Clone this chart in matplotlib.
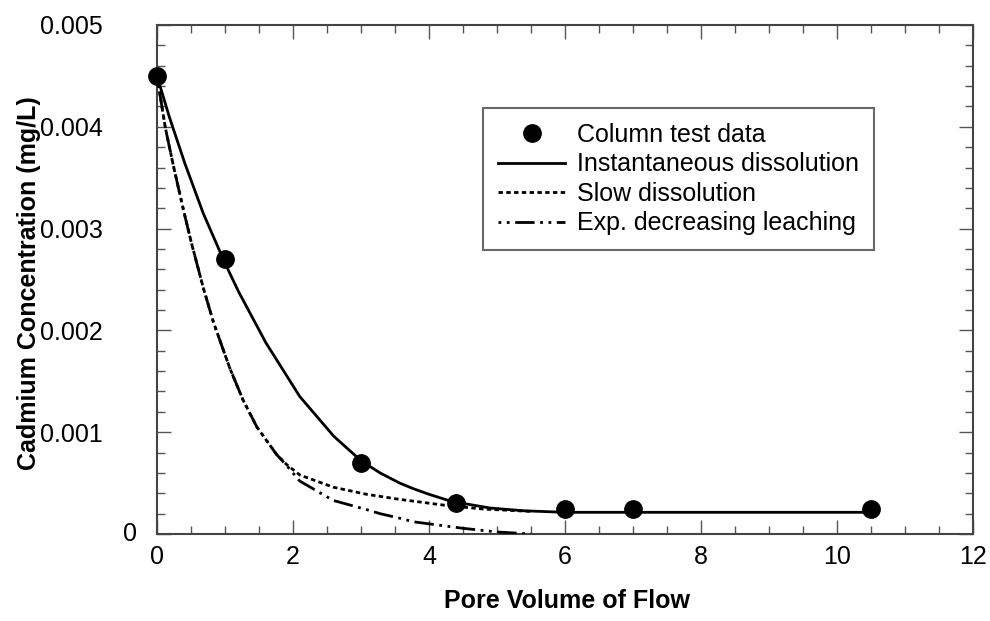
import matplotlib
matplotlib.use("Agg")
import matplotlib.pyplot as plt
from matplotlib.ticker import MultipleLocator, FixedLocator

plt.rcParams['font.family'] = ['Liberation Sans', 'DejaVu Sans']

# Column test data
data_x = [0, 1, 3, 4.4, 6, 7, 10.5]
data_y = [0.0045, 0.0027, 0.0007, 0.0003, 0.00025, 0.00025, 0.00025]

# Instantaneous dissolution
inst_x = [0, 0.18, 0.41, 0.68, 1.0, 1.2, 1.6, 2.1, 2.6, 3.0, 3.28, 3.57, 3.77, 4.0, 4.26, 4.4, 4.9, 5.4, 6.0, 10.5]
inst_y = [0.0045, 0.00410, 0.00364, 0.00315, 0.00266, 0.00238, 0.00188, 0.00135, 0.00096, 0.00072,
          0.00060, 0.00050, 0.000445, 0.00039, 0.000335, 0.000312, 0.000255, 0.000228, 0.000213, 0.000213]

# Slow dissolution
slow_x = [0, 0.12, 0.24, 0.39, 0.51, 0.68, 0.83, 1.07, 1.27, 1.47, 1.76, 1.91, 2.10, 2.59, 3.08, 3.57, 4.26, 4.8, 5.5]
slow_y = [0.0045, 0.0040, 0.00362, 0.00318, 0.00285, 0.00242, 0.00208, 0.00163, 0.00131, 0.00105,
          0.00078, 0.00068, 0.00058, 0.00046, 0.00039, 0.00034, 0.000280, 0.000245, 0.000222]

# Exp. decreasing leaching
expd_x = [0, 0.12, 0.24, 0.39, 0.51, 0.68, 0.83, 1.07, 1.27, 1.47, 1.76, 1.91, 2.10, 2.59, 3.08, 3.28, 3.57, 3.77, 4.5, 5.0, 5.5]
expd_y = [0.0045, 0.0040, 0.00362, 0.00318, 0.00285, 0.00242, 0.00208, 0.00163, 0.00131, 0.00105,
          0.00078, 0.00067, 0.00052, 0.00033, 0.00024, 0.00020, 0.000155, 0.00012, 0.000056, 0.00002, 0.0]

x_ticks = [0, 2, 4, 6, 8, 10, 12]
y_ticks = [0, 0.001, 0.002, 0.003, 0.004, 0.005]
y_tick_labels = ['0', '0.001', '0.002', '0.003', '0.004', '0.005']

FS = 18

fig = plt.figure(figsize=(9.9, 6.21), dpi=100)
ax = fig.add_axes([157/990, 1 - 534/621, (973-157)/990, (534-25)/621])

ax.plot(inst_x, inst_y, color='black', lw=2.0, ls='-', label='Instantaneous dissolution', zorder=3)
ax.plot(slow_x, slow_y, color='black', lw=2.0, ls=(0, (1.6, 1.2)), label='Slow dissolution', zorder=3)
ax.plot(expd_x, expd_y, color='black', lw=2.0, ls=(0, (1.0, 2.0, 1.0, 2.0, 7.0, 2.0)),
        label='Exp. decreasing leaching', zorder=3)
ax.plot(data_x, data_y, 'o', color='black', ms=12.5, label='Column test data', zorder=4, clip_on=False)

ax.set_xlim(0, 12)
ax.set_ylim(0, 0.005)
ax.xaxis.set_major_locator(FixedLocator(x_ticks))
ax.xaxis.set_minor_locator(MultipleLocator(0.5))
ax.yaxis.set_major_locator(FixedLocator(y_ticks))
# the zero label sits closer to the axis in the reference; drawn separately below
ax.set_yticklabels([''] + y_tick_labels[1:])
ax.yaxis.set_minor_locator(MultipleLocator(0.0002))

ax.tick_params(which='both', direction='in', top=True, right=True, color='#555555', width=1.0)
ax.tick_params(which='major', length=10, labelsize=FS, labelcolor='black')
ax.tick_params(axis='x', which='major', pad=8)
ax.tick_params(axis='y', which='major', pad=39)
ax.tick_params(which='minor', length=6)
for s in ax.spines.values():
    s.set_color('#444444')
    s.set_linewidth(1.5)

ax.text(-20/816, y_ticks[0], y_tick_labels[0], transform=ax.get_yaxis_transform(),
        ha='right', va='center', fontsize=FS)

ax.set_xlabel('Pore Volume of Flow', fontsize=FS, fontweight='bold')
ax.set_ylabel('Cadmium Concentration (mg/L)', fontsize=FS, fontweight='bold')
ax.xaxis.set_label_coords(0.503, -0.108)
ax.yaxis.set_label_coords(-0.142, 0.493)

h, l = ax.get_legend_handles_labels()
order = [3, 0, 1, 2]
leg = ax.legend([h[i] for i in order], [l[i] for i in order], loc='upper left',
                bbox_to_anchor=(0.3995, 0.837), borderaxespad=0, fontsize=FS,
                handlelength=2.7, handletextpad=0.45, fancybox=False, frameon=True,
                borderpad=0.6, labelspacing=0.22)
leg.get_frame().set_edgecolor('#444444')
leg.get_frame().set_linewidth(1.5)

fig.savefig('out.png', dpi=100)
